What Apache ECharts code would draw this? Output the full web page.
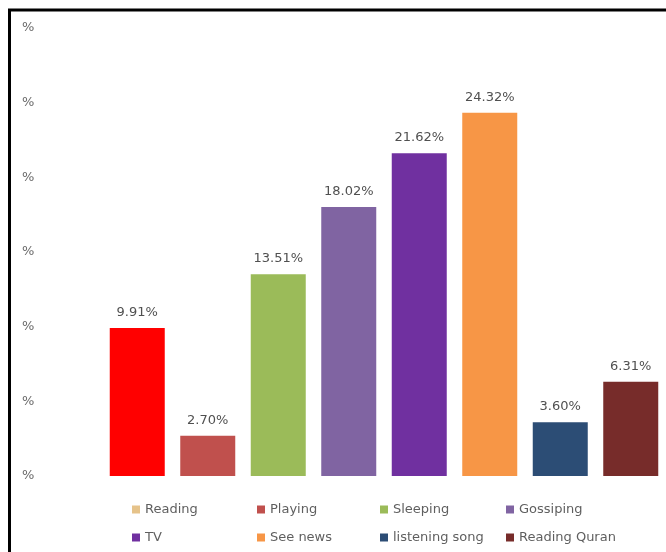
<!DOCTYPE html>
<html>
<head>
<meta charset="utf-8">
<style>
  html, body { margin: 0; padding: 0; background: #fff; }
  #chart { width: 666px; height: 552px; }
</style>
<script src="https://cdn.jsdelivr.net/npm/echarts@6/dist/echarts.min.js"></script>
</head>
<body>
<div id="chart"></div>
<script>
// Activities and their shares of respondents (percent)
const activities = ['Reading', 'Playing', 'Sleeping', 'Gossiping', 'TV', 'See news', 'listening song', 'Reading Quran'];
const shares = [9.91, 2.70, 13.51, 18.02, 21.62, 24.32, 3.60, 6.31];
const barColors = ['#FF0000', '#C0504D', '#9BBB59', '#8064A2', '#7030A0', '#F79646', '#2C4D75', '#772C2A'];
const legendColors = ['#E6C38A', '#C0504D', '#9BBB59', '#8064A2', '#7030A0', '#F79646', '#2C4D75', '#772C2A'];
const yTicks = [0, 5, 10, 15, 20, 25, 30];

const FONT = '"DejaVu Sans", "Open Sans", sans-serif';

// One series per activity so every activity gets its own legend entry
const series = activities.map((name, i) => ({
  name: name,
  type: 'bar',
  stack: 'all',
  barWidth: 55,
  itemStyle: { color: barColors[i] },
  label: {
    show: true,
    position: 'top',
    distance: 9,
    color: '#505050',
    fontFamily: FONT,
    fontSize: 13,
    formatter: p => p.value.toFixed(2) + '%'
  },
  data: activities.map((_, j) => (j === i ? shares[i] : '-'))
}));

// Legend laid out in a 4 x 2 grid
const legendCols = [132, 257, 380, 506];
const legendRows = [503, 531];
const legends = activities.map((name, i) => ({
  left: legendCols[i % 4],
  top: legendRows[Math.floor(i / 4)],
  padding: 0,
  itemWidth: 8,
  itemHeight: 8,
  itemGap: 0,
  icon: 'rect',
  selectedMode: false,
  textStyle: { color: '#5f5f5f', fontFamily: FONT, fontSize: 13 },
  data: [{ name: name, itemStyle: { color: legendColors[i] } }]
}));

const chart = echarts.init(document.getElementById('chart'));
chart.setOption({
  animation: false,
  backgroundColor: '#ffffff',
  grid: { left: 102, right: 0, top: 28, bottom: 76 },
  xAxis: {
    type: 'category',
    data: activities,
    axisLine: { show: false },
    axisTick: { show: false },
    axisLabel: { show: false }
  },
  yAxis: {
    type: 'value',
    min: yTicks[0],
    max: yTicks[yTicks.length - 1],
    interval: yTicks[1] - yTicks[0],
    splitLine: { show: false },
    axisLine: { show: false },
    axisTick: { show: false },
    axisLabel: {
      align: 'left',
      margin: 80,
      color: '#6a6a6a',
      fontFamily: FONT,
      fontSize: 13,
      formatter: () => '%'
    }
  },
  legend: legends,
  graphic: [{
    type: 'polyline',
    silent: true,
    shape: { points: [[9.5, 560], [9.5, 10], [680, 10]] },
    style: { stroke: '#000', lineWidth: 3, fill: null }
  }],
  series: series
});
</script>
</body>
</html>
